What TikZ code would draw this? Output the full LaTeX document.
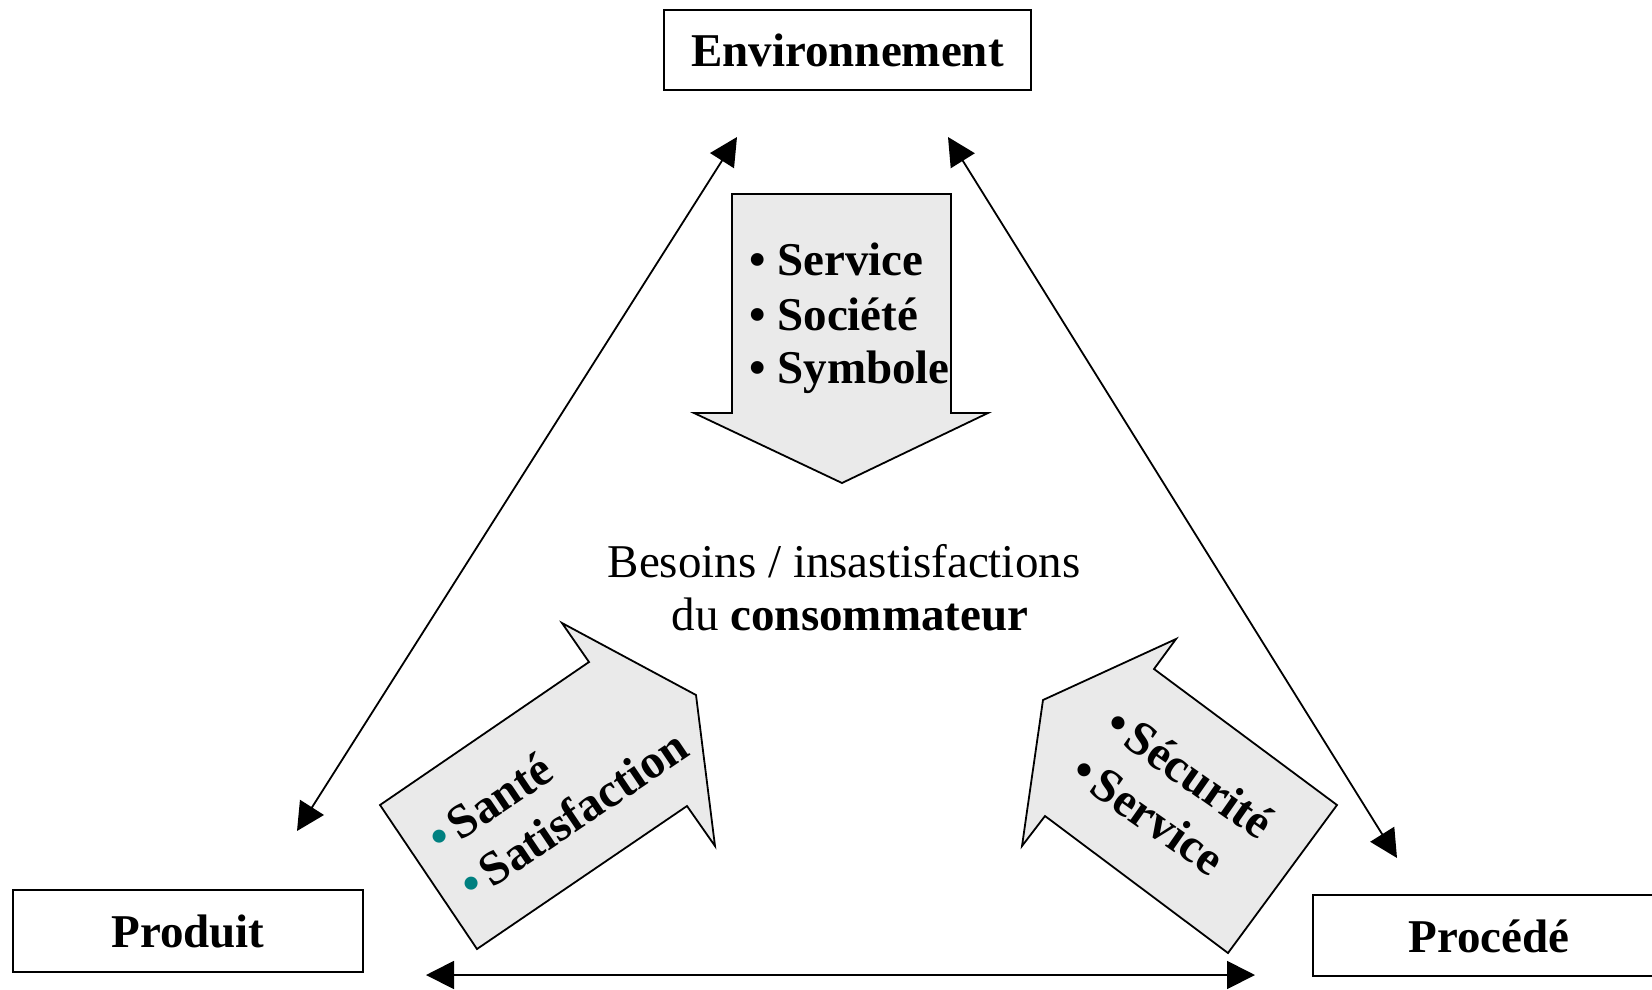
\documentclass[tikz,border=0pt]{standalone}
\usepackage{fontspec}
\setmainfont{Liberation Serif}
\usetikzlibrary{arrows.meta}
\definecolor{panelgrey}{HTML}{EAEAEA}
\definecolor{dotteal}{HTML}{008080}
\newcommand{\rotbullet}[1]{{\color{#1}\textbullet}\hspace{7pt}}
\begin{document}
\begin{tikzpicture}[x=1pt,y=-1pt,
  box/.style={draw, line width=2.5pt, inner sep=0pt, text height=33pt, text depth=0pt,
    font=\fontsize{47}{55}\selectfont\bfseries},
  blockarrow/.style={draw, line width=1.8pt, fill=panelgrey, line join=miter},
  itemtext/.style={inner sep=0pt, anchor=base west, font=\fontsize{47}{55}\selectfont\bfseries},
  rotitem/.style={itemtext, font=\fontsize{48}{56}\selectfont\bfseries},
  plaintext/.style={inner sep=0pt, anchor=base, font=\fontsize{47}{55}\selectfont},
  link/.style={line width=1.8pt,
    {Triangle[length=28pt,width=28pt]}-{Triangle[length=28pt,width=28pt]}}]
\useasboundingbox (0,0) rectangle (1652,989);
\clip (0,0) rectangle (1652,989);

% the three poles
\node[box, minimum width=367pt, minimum height=80pt] (env) at (847.5,50) {Environnement};
\node[box, minimum width=350pt, minimum height=82pt] (prod) at (188,931) {Produit};
\node[box, minimum width=352pt, minimum height=81pt] (proc) at (1489,935.5) {Procédé};

% ends of the double-headed links
\coordinate (envL) at (737,137);
\coordinate (prodT) at (297,831);
\coordinate (envR) at (948,137);
\coordinate (procT) at (1397,858);
\coordinate (prodR) at (426,975);
\coordinate (procL) at (1255,975);

\draw[link] (envL) -- (prodT);
\draw[link] (envR) -- (procT);
\draw[link] (prodR) -- (procL);

% block arrows pointing to the consumer
\draw[blockarrow] (732,194) -- (951,194) -- (951,413) -- (988,413) -- (842,483)
  -- (694,413) -- (732,413) -- cycle;
\draw[blockarrow] (380,805) -- (589,662) -- (562,623) -- (696,695) -- (715,846)
  -- (687,806) -- (477,949) -- cycle;
\draw[blockarrow] (1043,700) -- (1176,639) -- (1154,669) -- (1337,805) -- (1228,953)
  -- (1045,816) -- (1022,846) -- cycle;

% items carried by the top arrow
\node[itemtext] (top1) at (749,275) {\textbullet\ Service};
\node[itemtext] (top2) at (749,330) {\textbullet\ Société};
\node[itemtext] (top3) at (749,383) {\textbullet\ Symbole};

% items carried by the left arrow
\node[rotitem, rotate=34] (left1) at (441,855) {\rotbullet{dotteal}Santé};
\node[rotitem, rotate=34] (left2) at (473,902) {\rotbullet{dotteal}Satisfaction};

% items carried by the right arrow
\node[rotitem, rotate=-35] (right1) at (1102,731) {\rotbullet{black}Sécurité};
\node[rotitem, rotate=-35] (right2) at (1068,778) {\rotbullet{black}Service};

% centre
\node[plaintext] (need1) at (844,577) {Besoins / insastisfactions};
\node[plaintext] (need2) at (850,630) {du \textbf{consommateur}};
\end{tikzpicture}
\end{document}
